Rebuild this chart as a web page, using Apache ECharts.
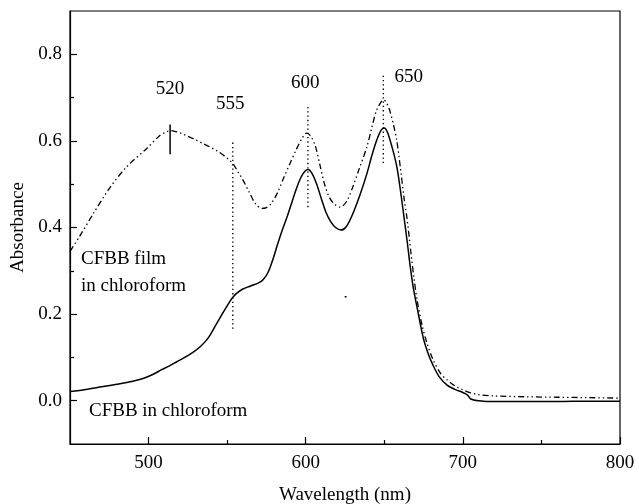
<!DOCTYPE html>
<html>
<head>
<meta charset="utf-8">
<script src="https://cdn.jsdelivr.net/npm/echarts@6/dist/echarts.min.js"></script>
<style>
  html, body { margin: 0; padding: 0; background: #fff; }
  #chart { width: 639px; height: 504px; }
</style>
</head>
<body>
<div id="chart"></div>
<script>
// Absorption spectra of CFBB (wavelength nm, absorbance)
const solutionSpectrum = [
  [450, 0.021], [460, 0.026], [470, 0.032], [480, 0.038], [490, 0.045],
  [497, 0.052], [503, 0.061], [508, 0.071], [513, 0.080], [518, 0.090],
  [523, 0.100], [528, 0.111], [533, 0.125], [538, 0.145], [543, 0.176],
  [547, 0.201], [550, 0.219], [553, 0.236], [556, 0.248], [560, 0.258],
  [565, 0.265], [570, 0.272], [573, 0.280], [576, 0.296], [579, 0.325],
  [582, 0.360], [585, 0.393], [588, 0.423], [591, 0.456], [594, 0.489],
  [597, 0.516], [599.5, 0.530], [601.5, 0.534], [604, 0.525], [607, 0.500],
  [610, 0.466], [613, 0.434], [616, 0.413], [619, 0.400], [622.5, 0.394],
  [626, 0.403], [630, 0.432], [634.5, 0.475], [639, 0.525], [642, 0.565],
  [645, 0.600], [648, 0.625], [650, 0.630], [652, 0.620], [655, 0.585],
  [658, 0.540], [660.5, 0.480], [662.5, 0.425], [664.5, 0.370], [666.5, 0.310],
  [668.5, 0.260], [671, 0.213], [673, 0.176], [675, 0.142], [678, 0.108],
  [681, 0.082], [685, 0.055], [690, 0.036], [695, 0.026], [700, 0.019],
  [703, 0.013], [705, 0.004], [710, 0.000], [720, -0.002], [740, -0.002],
  [760, -0.002], [780, -0.001], [800, -0.001]
];

const filmSpectrum = [
  [450, 0.345], [456, 0.379], [465, 0.433], [475, 0.490], [486, 0.540],
  [499, 0.583], [507, 0.612], [512, 0.622], [514, 0.624], [518, 0.621],
  [523, 0.614], [528.5, 0.605], [534, 0.595], [539, 0.586], [544, 0.576],
  [548, 0.566], [551, 0.557], [554, 0.546], [557, 0.528], [560, 0.510],
  [564, 0.482], [568, 0.455], [572, 0.444], [575, 0.446], [578, 0.455],
  [582, 0.480], [586, 0.515], [590, 0.548], [594, 0.580], [597.5, 0.605],
  [600.5, 0.618], [603, 0.612], [606, 0.590], [609, 0.545], [612, 0.500],
  [615, 0.470], [618, 0.455], [622, 0.447], [626, 0.460], [630, 0.494],
  [634, 0.535], [639, 0.587], [642, 0.630], [645, 0.670], [648, 0.690],
  [649.5, 0.695], [651, 0.690], [653, 0.676], [656, 0.635], [658, 0.600],
  [660.5, 0.530], [662.5, 0.470], [664.5, 0.420], [667, 0.340], [669, 0.280],
  [671, 0.230], [674, 0.175], [677, 0.135], [681, 0.095], [686, 0.062],
  [690, 0.048], [695, 0.034], [700, 0.025], [705, 0.018], [710, 0.014],
  [720, 0.011], [740, 0.009], [760, 0.008], [780, 0.007], [800, 0.006]
];

// Peak markers: [wavelength, lower absorbance, upper absorbance]
const peakMark520 = [513.7, 0.569, 0.638];
const peakGuides = [
  [553.6, 0.166, 0.598],
  [601.4, 0.447, 0.683],
  [649.4, 0.549, 0.752]
];
// Peak labels: [wavelength, absorbance, text]
const peakLabels = [
  [513.7, 0.719, '520'],
  [551.9, 0.685, '555'],
  [599.7, 0.734, '600'],
  [665.5, 0.748, '650']
];
// Stray mark near 625 nm
const strayMark = [[624.8, 0.240], [626.0, 0.240]];

const xMajorTicks = [500, 600, 700, 800];
const xMinorTicks = [550, 650, 750];
const yMajorTicks = [0, 0.2, 0.4, 0.6, 0.8];
const yMinorTicks = [0.1, 0.3, 0.5, 0.7];

const FONT = '"Liberation Serif", "DejaVu Serif", serif';
const FS = 19;

const chart = echarts.init(document.getElementById('chart'), null, { renderer: 'canvas' });

const guideSeries = peakGuides.map(g => ({
  type: 'line',
  data: [[g[0], g[1]], [g[0], g[2]]],
  symbol: 'none',
  lineStyle: { color: '#000', width: 1.4, type: [1.3, 3] },
  silent: true,
  z: 3
}));

const tickLine = { color: '#000', width: 1.2 };

chart.setOption({
  animation: false,
  backgroundColor: '#fff',
  grid: {
    left: 70, right: 19, top: 11, bottom: 60,
    outerBoundsMode: 'none', containLabel: false,
    show: true, borderColor: '#000', borderWidth: 1.2
  },
  xAxis: [{
    type: 'value', min: 450, max: 800, position: 'bottom',
    name: 'Wavelength (nm)', nameLocation: 'middle', nameGap: 42,
    nameTextStyle: { color: '#000', fontFamily: FONT, fontSize: FS },
    axisLine: { show: true, onZero: false, lineStyle: tickLine },
    axisTick: { show: true, inside: true, length: 7, customValues: xMajorTicks, lineStyle: tickLine },
    axisLabel: { show: true, customValues: xMajorTicks, color: '#000',
      fontFamily: FONT, fontSize: FS, margin: 10 },
    splitLine: { show: false }
  }, {
    type: 'value', min: 450, max: 800, position: 'bottom', offset: 0,
    axisLine: { show: false, onZero: false },
    axisTick: { show: true, inside: true, length: 4, customValues: xMinorTicks, lineStyle: tickLine },
    axisLabel: { show: false },
    splitLine: { show: false }
  }],
  yAxis: [{
    type: 'value', min: -0.1, max: 0.9, position: 'left',
    name: 'Absorbance', nameLocation: 'middle', nameGap: 41,
    nameTextStyle: { color: '#000', fontFamily: FONT, fontSize: FS },
    axisLine: { show: true, onZero: false, lineStyle: tickLine },
    axisTick: { show: true, inside: true, length: 7, customValues: yMajorTicks, lineStyle: tickLine },
    axisLabel: { show: true, customValues: yMajorTicks, color: '#000',
      fontFamily: FONT, fontSize: FS, margin: 8,
      formatter: v => Number(v).toFixed(1) },
    splitLine: { show: false }
  }, {
    type: 'value', min: -0.1, max: 0.9, position: 'left', offset: 0,
    axisLine: { show: false, onZero: false },
    axisTick: { show: true, inside: true, length: 4, customValues: yMinorTicks, lineStyle: tickLine },
    axisLabel: { show: false },
    splitLine: { show: false }
  }],
  series: [
    {
      name: 'CFBB film in chloroform', type: 'line', data: filmSpectrum,
      symbol: 'none', smooth: 0.3,
      lineStyle: { color: '#000', width: 1.3, type: [6, 3, 1.4, 3, 1.4, 3] },
      z: 4
    },
    {
      name: 'CFBB in chloroform', type: 'line', data: solutionSpectrum,
      symbol: 'none', smooth: 0.3,
      lineStyle: { color: '#000', width: 1.5, type: 'solid' },
      z: 5
    },
    ...guideSeries,
    {
      type: 'line',
      data: [[peakMark520[0], peakMark520[1]], [peakMark520[0], peakMark520[2]]],
      symbol: 'none', silent: true,
      lineStyle: { color: '#000', width: 1.5 }, z: 6
    },
    {
      type: 'line', data: strayMark, symbol: 'none', silent: true,
      lineStyle: { color: '#000', width: 1.5 }, z: 6
    },
    {
      type: 'scatter', symbolSize: 0, silent: true,
      itemStyle: { opacity: 1 },
      data: peakLabels.map(p => ({ value: [p[0], p[1]], name: p[2] })),
      label: {
        show: true, position: [0, 0], align: 'center', verticalAlign: 'middle',
        formatter: p => p.name,
        color: '#000', opacity: 1, textBorderWidth: 0,
        fontFamily: FONT, fontSize: FS
      },
      labelLayout: { hideOverlap: false },
      z: 7
    }
  ],
  graphic: [
    { type: 'text', left: 81, top: 250,
      style: { text: 'CFBB film', fill: '#000', font: FS + 'px ' + FONT } },
    { type: 'text', left: 81, top: 277,
      style: { text: 'in chloroform', fill: '#000', font: FS + 'px ' + FONT } },
    { type: 'text', left: 89, top: 402,
      style: { text: 'CFBB in chloroform', fill: '#000', font: FS + 'px ' + FONT } }
  ]
});
</script>
</body>
</html>
